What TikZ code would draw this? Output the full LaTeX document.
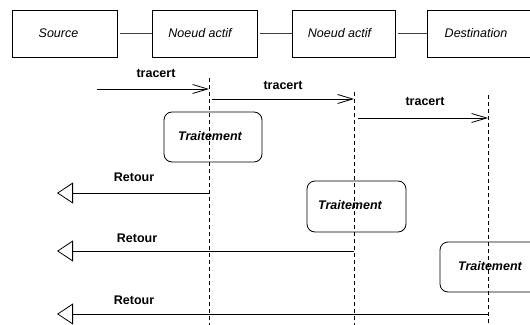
\documentclass[tikz,border=0pt]{standalone}
\usepackage{fontspec}
\setmainfont{Liberation Sans}
\usetikzlibrary{arrows.meta}

\tikzset{
  hostbox/.style={draw, line width=0.8pt, minimum width=105pt, minimum height=47pt, inner sep=0pt},
  hosttext/.style={font=\fontsize{12.5}{15}\selectfont\itshape, inner sep=0pt},
  procbox/.style={draw, line width=0.8pt, rounded corners=8pt, minimum width=98pt,
    minimum height=50pt, inner sep=0pt},
  proctext/.style={font=\fontsize{12.5}{15}\selectfont\bfseries\itshape, inner sep=0pt},
  link/.style={line width=0.8pt, draw=black!75},
  lifeline/.style={line width=0.8pt, dash pattern=on 4pt off 3pt},
  callmsg/.style={line width=0.8pt, -{Straight Barb[length=15pt,width=9pt,line width=0.8pt]}},
  backmsg/.style={line width=0.8pt, -{Triangle[open,length=16pt,width=21pt,fill=white,line width=0.8pt]}},
  msglabel/.style={font=\fontsize{12.5}{15}\selectfont\bfseries, inner sep=0pt}
}

\begin{document}
\begin{tikzpicture}[x=1pt,y=-1pt]
\useasboundingbox (0,0) rectangle (530,324);
\clip (0,0) rectangle (530,324);

% hosts along the path
\node[hostbox] (src) at (64.5,33.5) {};
\node[hostbox] (na1) at (204.5,33.5) {};
\node[hostbox, minimum width=103pt] (na2) at (343.5,33.5) {};
\node[hostbox, minimum width=120pt] (dst) at (487,33.5) {};
\node[hosttext] (srclbl) at (58.5,33.5) {Source};
\node[hosttext] (na1lbl) at (200,33.5) {Noeud actif};
\node[hosttext] (na2lbl) at (339.5,33.5) {Noeud actif};
\node[hosttext] (dstlbl) at (476,33.5) {Destination};

\draw[link] ([xshift=3pt]src.east) -- (na1.west);
\draw[link] ([xshift=3pt]na1.east) -- (na2.west);
\draw[link] ([xshift=3pt]na2.east) -- (dst.west);

% lifelines
\coordinate (l1t) at (209,78);  \coordinate (l1b) at (209,326);
\coordinate (l2t) at (354,92);  \coordinate (l2b) at (354,326);
\coordinate (l3t) at (488,95);  \coordinate (l3b) at (488,326);
\draw[lifeline] (l1t) -- (l1b);
\draw[lifeline] (l2t) -- (l2b);
\draw[lifeline] (l3t) -- (l3b);

% processing on each node
\node[procbox] (tr1) at (213,137) {};
\node[procbox, minimum width=99pt, minimum height=51pt] (tr2) at (356.5,206.5) {};
\node[procbox, minimum width=110pt] (tr3) at (495,267) {};
\node[proctext] (tr1lbl) at (210,136) {Traitement};
\node[proctext] (tr2lbl) at (350,205) {Traitement};
\node[proctext] (tr3lbl) at (490,266) {Traitement};

% forward probes
\coordinate (c1s) at (97,89);   \coordinate (c1e) at (209,89);
\coordinate (c2s) at (212,99);  \coordinate (c2e) at (354,99);
\coordinate (c3s) at (358,118); \coordinate (c3e) at (488,118);
\draw[callmsg] (c1s) -- (c1e);
\draw[callmsg] (c2s) -- (c2e);
\draw[callmsg] (c3s) -- (c3e);
\node[msglabel] (t1) at (156,73) {tracert};
\node[msglabel] (t2) at (283,85) {tracert};
\node[msglabel] (t3) at (425,101) {tracert};

% replies back to the source
\coordinate (r1s) at (209,193); \coordinate (r1e) at (57,193);
\coordinate (r2s) at (354,251); \coordinate (r2e) at (57,251);
\coordinate (r3s) at (488,314); \coordinate (r3e) at (57,314);
\draw[backmsg] (r1s) -- (r1e);
\draw[backmsg] (r2s) -- (r2e);
\draw[backmsg] (r3s) -- (r3e);
\node[msglabel] (b1) at (134,177) {Retour};
\node[msglabel] (b2) at (137,238) {Retour};
\node[msglabel] (b3) at (134,300) {Retour};
\end{tikzpicture}
\end{document}
